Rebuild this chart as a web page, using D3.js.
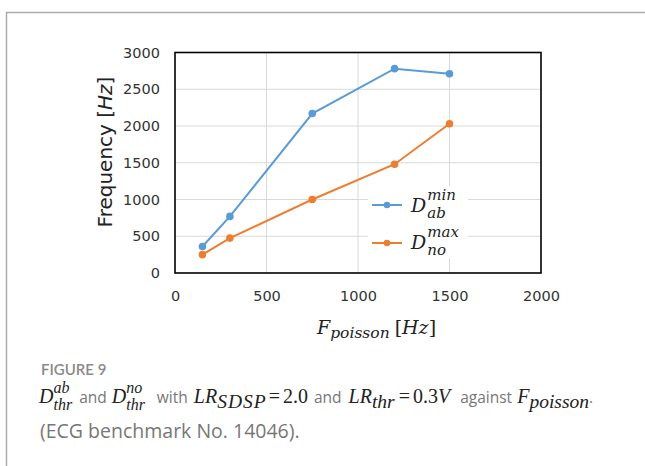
<!DOCTYPE html>
<html>
<head>
<meta charset="utf-8">
<script src="https://cdn.jsdelivr.net/npm/d3@7"></script>
<style>
  html, body { margin: 0; padding: 0; background: #fff; }
  svg { display: block; }
</style>
</head>
<body>
<svg id="chart" width="645" height="466"></svg>
<script>
// ---- data ----
const xValues = [150, 300, 750, 1200, 1500];
const dAbMin = [360, 770, 2170, 2780, 2710];
const dNoMax = [250, 475, 1000, 1480, 2030];
const xTicks = [0, 500, 1000, 1500, 2000];
const yTicks = [0, 500, 1000, 1500, 2000, 2500, 3000];
const seriesColors = ["#5B9BD5", "#ED7D31"];

const svg = d3.select("#chart");

// card border (top + left)
svg.append("path")
  .attr("d", "M6.5,466 L6.5,12.5 L645,12.5")
  .attr("fill", "none").attr("stroke", "#aaaaaa").attr("stroke-width", 1.5);

const x = d3.scaleLinear().domain([0, 2000]).range([175, 541]);
const y = d3.scaleLinear().domain([0, 3000]).range([273, 52.5]);

const plot = svg.append("g");

// gridlines
plot.append("g").selectAll("line").data(xTicks.slice(1, -1)).join("line")
  .attr("x1", d => x(d)).attr("x2", d => x(d))
  .attr("y1", y(3000)).attr("y2", y(0))
  .attr("stroke", "#d9d9d9").attr("stroke-width", 1);
plot.append("g").selectAll("line").data(yTicks.slice(1, -1)).join("line")
  .attr("x1", x(0)).attr("x2", x(2000))
  .attr("y1", d => y(d)).attr("y2", d => y(d))
  .attr("stroke", "#d9d9d9").attr("stroke-width", 1);

// axes (labels only)
const xAxis = d3.axisBottom(x).tickValues(xTicks).tickSize(0).tickPadding(0).tickFormat(d3.format("d"));
const yAxis = d3.axisLeft(y).tickValues(yTicks).tickSize(0).tickPadding(0).tickFormat(d3.format("d"));
const gx = plot.append("g").attr("transform", `translate(0,${y(0) + 18})`).call(xAxis);
const gy = plot.append("g").attr("transform", `translate(${x(0) - 15},0)`).call(yAxis);
[gx, gy].forEach(g => {
  g.select(".domain").remove();
  g.selectAll("text").attr("font-family", "DejaVu Sans, Verdana, sans-serif")
    .attr("font-size", 14.5).attr("fill", "#333");
});
gx.selectAll("text").attr("dy", "0.71em");

// frame
plot.append("rect")
  .attr("x", x(0)).attr("y", y(3000))
  .attr("width", x(2000) - x(0)).attr("height", y(0) - y(3000))
  .attr("fill", "none").attr("stroke", "#000").attr("stroke-width", 1.6);

// series
const series = [dAbMin, dNoMax];
const line = d3.line().x((d, i) => x(xValues[i])).y(d => y(d));
series.forEach((vals, si) => {
  plot.append("path").datum(vals)
    .attr("d", line).attr("fill", "none")
    .attr("stroke", seriesColors[si]).attr("stroke-width", 2);
  plot.append("g").selectAll("circle").data(vals).join("circle")
    .attr("cx", (d, i) => x(xValues[i])).attr("cy", d => y(d))
    .attr("r", 3.8).attr("fill", seriesColors[si]);
});

const mathFont = "DejaVu Serif, serif";

// base letter + stacked superscript/subscript
function stacked(g, x0, base, main, sup, sub, o) {
  const mk = (tx, yy, size) => g.append("text").attr("x", tx).attr("y", yy)
    .attr("font-family", o.font).attr("font-style", "italic").attr("fill", o.fill).attr("font-size", size);
  const m = mk(x0, base, o.size).text(main);
  const w = m.node().getComputedTextLength();
  const xs = x0 + w + (o.pad || 0);
  const a = mk(xs, base + o.supDy, o.small).text(sup);
  const b = mk(xs, base + o.subDy, o.small).text(sub);
  return xs + Math.max(a.node().getComputedTextLength(), b.node().getComputedTextLength());
}

// legend
const leg = svg.append("g");
leg.append("rect").attr("x", 368).attr("y", 186).attr("width", 100).attr("height", 72).attr("fill", "#fff");
const legItems = [
  { ly: 205, base: 212, sup: "min", sub: "ab" },
  { ly: 243, base: 249, sup: "max", sub: "no" }
];
legItems.forEach((it, i) => {
  leg.append("line").attr("x1", 372).attr("x2", 402).attr("y1", it.ly).attr("y2", it.ly)
    .attr("stroke", seriesColors[i]).attr("stroke-width", 2);
  leg.append("circle").attr("cx", 387).attr("cy", it.ly).attr("r", 3.3).attr("fill", seriesColors[i]);
  stacked(leg, 411, it.base, "D", it.sup, it.sub,
    { font: mathFont, fill: "#222", size: 19, small: 15, supDy: -12, subDy: 6, pad: 1 });
});

// y-axis title
const yt = svg.append("text")
  .attr("transform", "translate(112,152) rotate(-90)")
  .attr("text-anchor", "middle")
  .attr("font-family", "DejaVu Sans, Verdana, sans-serif").attr("font-size", 20).attr("fill", "#222");
yt.append("tspan").text("Frequency [");
yt.append("tspan").attr("font-style", "italic").text("Hz");
yt.append("tspan").text("]");

// flowing text helper
function flow(g, x0, y0, segs) {
  let cx = x0;
  segs.forEach(s => {
    if (s.stack) {
      cx = stacked(g, cx, y0, s.main, s.sup, s.sub, s) + (s.gap || 0);
    } else {
      const t = g.append("text").attr("x", cx).attr("y", y0 + (s.dy || 0)).text(s.text)
        .attr("font-family", s.font).attr("font-style", s.style || "normal")
        .attr("font-size", s.size).attr("fill", s.fill)
        .attr("letter-spacing", s.ls || 0);
      cx += t.node().getComputedTextLength() + (s.gap || 0);
    }
  });
  return cx;
}

// x-axis title
flow(svg.append("g"), 317, 334, [
  { text: "F", font: mathFont, style: "italic", size: 19, fill: "#222" },
  { text: "poisson", font: mathFont, style: "italic", size: 15.5, fill: "#222", dy: 4, gap: 5 },
  { text: "[", font: mathFont, size: 19, fill: "#222" },
  { text: "Hz", font: mathFont, style: "italic", size: 19, fill: "#222" },
  { text: "]", font: mathFont, size: 19, fill: "#222" }
]);

// caption
const capFont = "'Open Sans', Lato, sans-serif";
const capFill = "#777";
svg.append("text").attr("x", 41).attr("y", 375).text("FIGURE 9")
  .attr("font-family", "Lato, sans-serif").attr("font-size", 15).attr("font-weight", 600).attr("fill", "#8a8a8a");

const serif = "Liberation Serif, 'Times New Roman', serif";
const mathFill = "#222";
const wSize = 15.5;
const mSize = 20;
const sSize = 19.5;
const stackOpt = { font: serif, fill: mathFill, size: mSize, small: 16, supDy: -10, subDy: 7 };
flow(svg.append("g"), 39, 403, [
  Object.assign({ stack: true, main: "D", sup: "ab", sub: "thr", gap: 7 }, stackOpt),
  { text: "and", font: capFont, size: wSize, fill: capFill, gap: 5 },
  Object.assign({ stack: true, main: "D", sup: "no", sub: "thr", gap: 12 }, stackOpt),
  { text: "with", font: capFont, size: wSize, fill: capFill, gap: 6 },
  { text: "LR", font: serif, style: "italic", size: mSize, fill: mathFill },
  { text: "SDSP", font: serif, style: "italic", size: sSize, fill: mathFill, dy: 5, gap: 2, ls: 1 },
  { text: "=", font: serif, size: mSize, fill: mathFill, gap: 3 },
  { text: "2.0", font: serif, size: mSize, fill: mathFill, gap: 6 },
  { text: "and", font: capFont, size: wSize, fill: capFill, gap: 7 },
  { text: "LR", font: serif, style: "italic", size: mSize, fill: mathFill },
  { text: "thr", font: serif, style: "italic", size: sSize, fill: mathFill, dy: 5, gap: 4 },
  { text: "=", font: serif, size: mSize, fill: mathFill, gap: 3 },
  { text: "0.3", font: serif, size: mSize, fill: mathFill },
  { text: "V", font: serif, style: "italic", size: mSize, fill: mathFill, gap: 10 },
  { text: "against", font: capFont, size: wSize, fill: capFill, gap: 5 },
  { text: "F", font: serif, style: "italic", size: mSize, fill: mathFill },
  { text: "poisson", font: serif, style: "italic", size: sSize, fill: mathFill, dy: 5 },
  { text: ".", font: capFont, size: wSize, fill: capFill }
]);

svg.append("text").attr("x", 40).attr("y", 438).text("(ECG benchmark No. 14046).")
  .attr("font-family", capFont).attr("font-size", 19.5).attr("fill", capFill);
</script>
</body>
</html>
